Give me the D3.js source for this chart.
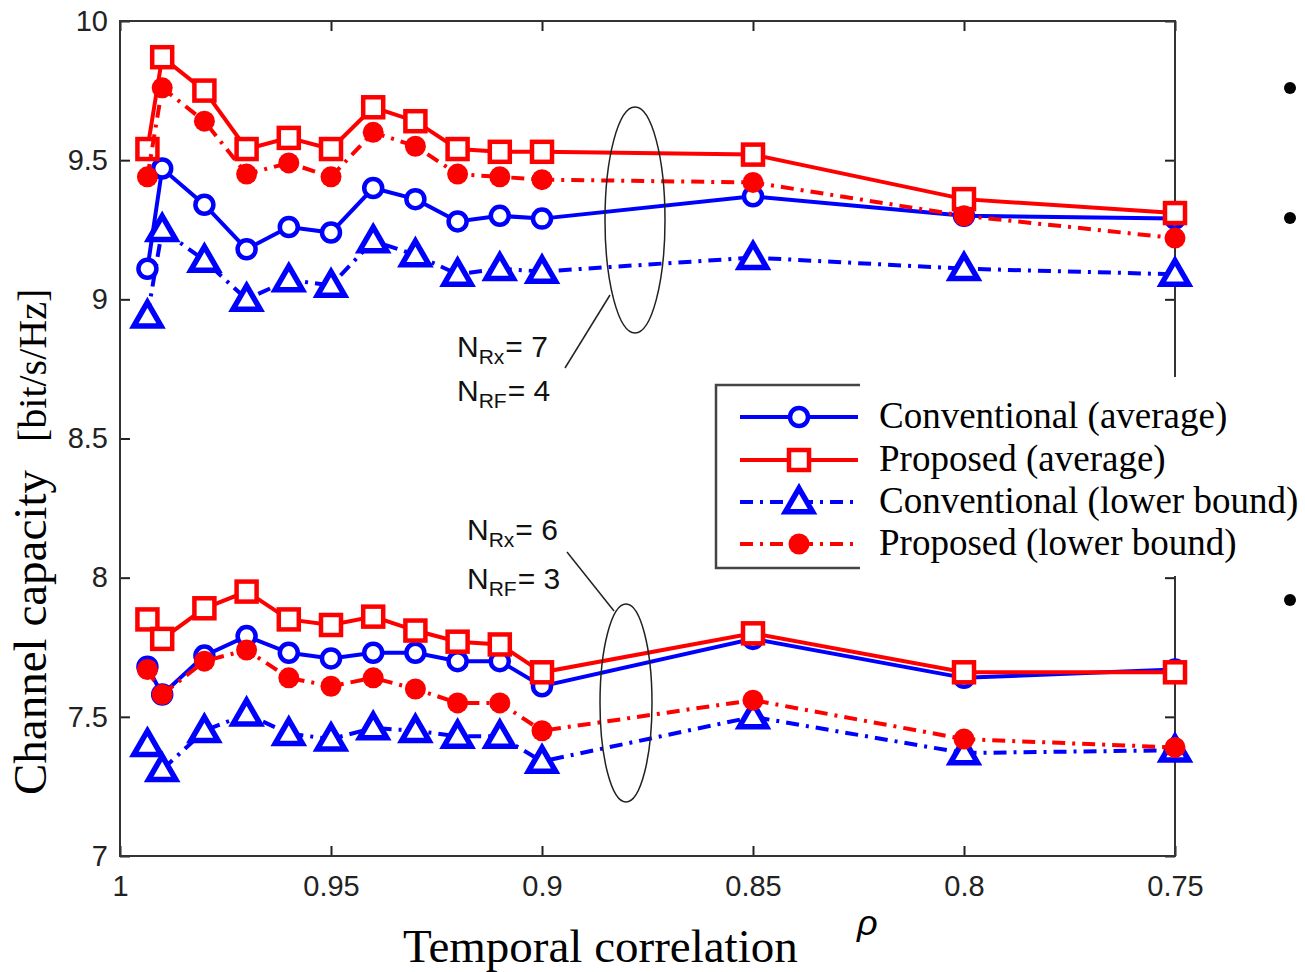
<!DOCTYPE html>
<html>
<head>
<meta charset="utf-8">
<script src="https://cdn.jsdelivr.net/npm/d3@7"></script>
<style>
  body { margin: 0; background: #fff; }
  svg { display: block; }
  .tick text { font-family: "Liberation Sans", Arial, sans-serif; fill: #222; }
</style>
</head>
<body>
<svg id="chart" width="1305" height="972"></svg>
<script>
// temporal correlation values
const rho = [0.9935, 0.99, 0.98, 0.97, 0.96, 0.95, 0.94, 0.93, 0.92, 0.91, 0.90, 0.85, 0.80, 0.75];

// N_Rx = 7, N_RF = 4
const conv7Avg = [9.11, 9.47, 9.34, 9.18, 9.26, 9.24, 9.40, 9.36, 9.28, 9.30, 9.29, 9.37, 9.30, 9.29];
const prop7Avg = [9.54, 9.87, 9.75, 9.54, 9.58, 9.54, 9.69, 9.64, 9.54, 9.53, 9.53, 9.52, 9.36, 9.31];
const conv7Lb  = [8.94, 9.25, 9.14, 9.00, 9.07, 9.05, 9.21, 9.16, 9.09, 9.11, 9.10, 9.15, 9.11, 9.09];
const prop7Lb  = [9.44, 9.76, 9.64, 9.45, 9.49, 9.44, 9.60, 9.55, 9.45, 9.44, 9.43, 9.42, 9.30, 9.22];

// N_Rx = 6, N_RF = 3
const conv6Avg = [7.68, 7.58, 7.72, 7.79, 7.73, 7.71, 7.73, 7.73, 7.70, 7.70, 7.61, 7.78, 7.64, 7.67];
const prop6Avg = [7.85, 7.78, 7.89, 7.95, 7.85, 7.83, 7.86, 7.81, 7.77, 7.76, 7.66, 7.80, 7.66, 7.66];
const conv6Lb  = [7.40, 7.31, 7.45, 7.51, 7.44, 7.42, 7.46, 7.45, 7.43, 7.43, 7.34, 7.50, 7.37, 7.38];
const prop6Lb  = [7.67, 7.58, 7.70, 7.74, 7.64, 7.61, 7.64, 7.60, 7.55, 7.55, 7.45, 7.56, 7.42, 7.39];

const xTicks = [1, 0.95, 0.9, 0.85, 0.8, 0.75];
const yTicks = [7, 7.5, 8, 8.5, 9, 9.5, 10];

const legendLabels = [
  "Conventional (average)",
  "Proposed (average)",
  "Conventional (lower bound)",
  "Proposed (lower bound)",
];

// settings
const margin = { top: 21, left: 120 };
const plotWidth = 1055;
const plotHeight = 835;
const blue = "#0000ff";
const red = "#ff0000";
const dashDot = "13,7,3,7";

const styles = {
  convAvg: { color: blue, dash: null, marker: "circle" },
  propAvg: { color: red, dash: null, marker: "square" },
  convLb: { color: blue, dash: dashDot, marker: "triangle" },
  propLb: { color: red, dash: dashDot, marker: "dot" },
};

const series = [
  { key: "convAvg", values: conv7Avg },
  { key: "propAvg", values: prop7Avg },
  { key: "convLb", values: conv7Lb },
  { key: "propLb", values: prop7Lb },
  { key: "convAvg", values: conv6Avg },
  { key: "propAvg", values: prop6Avg },
  { key: "convLb", values: conv6Lb },
  { key: "propLb", values: prop6Lb },
];

const svg = d3.select("#chart");

const plot = svg
  .append("g")
  .attr("transform", `translate(${margin.left}, ${margin.top})`);

// scales, axes
const xScale = d3.scaleLinear().domain([1, 0.75]).range([0, plotWidth]);
const yScale = d3.scaleLinear().domain([7, 10]).range([plotHeight, 0]);

const fmt = (d) => String(+d.toFixed(2));

const xAxisG = plot
  .append("g")
  .attr("transform", `translate(0, ${plotHeight})`)
  .call(d3.axisBottom(xScale).tickValues(xTicks).tickFormat(fmt).tickSize(-10).tickPadding(19));
const xTopG = plot
  .append("g")
  .call(d3.axisTop(xScale).tickValues(xTicks).tickFormat("").tickSize(-10));
const yAxisG = plot
  .append("g")
  .call(d3.axisLeft(yScale).tickValues(yTicks).tickFormat(fmt).tickSize(-10).tickPadding(12));
const yRightG = plot
  .append("g")
  .attr("transform", `translate(${plotWidth}, 0)`)
  .call(d3.axisRight(yScale).tickValues(yTicks).tickFormat("").tickSize(-10));

[xAxisG, xTopG, yAxisG, yRightG].forEach((g) => {
  g.select(".domain").remove();
  g.selectAll(".tick line").attr("stroke", "#222").attr("stroke-width", 2);
});
xAxisG.selectAll(".tick text").attr("font-size", 29);
yAxisG.selectAll(".tick text").attr("font-size", 29);

// frame
plot
  .append("rect")
  .attr("width", plotWidth)
  .attr("height", plotHeight)
  .attr("fill", "none")
  .attr("stroke", "#333")
  .attr("stroke-width", 2);

// lines
const lineGen = d3
  .line()
  .x((d) => xScale(d[0]))
  .y((d) => yScale(d[1]));

function drawMarker(g, type, color) {
  if (type === "circle") {
    g.append("circle").attr("r", 9).attr("fill", "#fff").attr("stroke", color).attr("stroke-width", 4.5);
  } else if (type === "square") {
    g.append("rect").attr("x", -10).attr("y", -10).attr("width", 20).attr("height", 20)
      .attr("fill", "#fff").attr("stroke", color).attr("stroke-width", 4.5);
  } else if (type === "triangle") {
    g.append("path").attr("d", d3.symbol(d3.symbolTriangle, 320)())
      .attr("transform", "translate(0, 2)")
      .attr("fill", "#fff").attr("stroke", color).attr("stroke-width", 5.5)
      .attr("stroke-linejoin", "miter");
  } else {
    g.append("circle").attr("r", 10.5).attr("fill", color);
  }
}

series.forEach((s) => {
  const st = styles[s.key];
  const pts = rho.map((r, i) => [r, s.values[i]]);
  plot
    .append("path")
    .datum(pts)
    .attr("d", lineGen)
    .attr("fill", "none")
    .attr("stroke", st.color)
    .attr("stroke-width", 4)
    .attr("stroke-dasharray", st.dash);
  plot
    .append("g")
    .selectAll("g")
    .data(pts)
    .join("g")
    .attr("transform", (d) => `translate(${xScale(d[0])}, ${yScale(d[1])})`)
    .each(function () {
      drawMarker(d3.select(this), st.marker, st.color);
    });
});

// annotations
const annot = svg.append("g").attr("fill", "none").attr("stroke", "#222").attr("stroke-width", 1.5);
annot.append("ellipse").attr("cx", 635).attr("cy", 220).attr("rx", 30).attr("ry", 113);
annot.append("line").attr("x1", 565).attr("y1", 368).attr("x2", 610).attr("y2", 295);
annot.append("ellipse").attr("cx", 626).attr("cy", 703).attr("rx", 26).attr("ry", 99);
annot.append("line").attr("x1", 567).attr("y1", 552).attr("x2", 614).attr("y2", 611);

function nLabel(x, y, sub, rest) {
  const t = svg
    .append("text")
    .attr("x", x)
    .attr("y", y)
    .attr("font-family", "Liberation Sans, Arial, sans-serif")
    .attr("font-size", 30)
    .attr("fill", "#111");
  t.append("tspan").text("N");
  t.append("tspan").attr("dx", 0).attr("dy", 7).attr("font-size", 21).text(sub);
  t.append("tspan").attr("dx", 1).attr("dy", -7).text(rest);
}
nLabel(457, 357, "Rx", "= 7");
nLabel(457, 401, "RF", "= 4");
nLabel(467, 540, "Rx", "= 6");
nLabel(467, 589, "RF", "= 3");

// legend
const legend = svg.append("g");
legend.append("rect").attr("x", 715).attr("y", 377).attr("width", 590).attr("height", 199).attr("fill", "#fff");
legend
  .append("path")
  .attr("d", "M860,385 H716 V568 H860")
  .attr("fill", "none")
  .attr("stroke", "#444")
  .attr("stroke-width", 2.5);

const legendRows = [417, 460, 502, 544];
["convAvg", "propAvg", "convLb", "propLb"].forEach((key, i) => {
  const st = styles[key];
  const y = legendRows[i];
  legend
    .append("line")
    .attr("x1", 740).attr("x2", 858).attr("y1", y).attr("y2", y)
    .attr("stroke", st.color).attr("stroke-width", 4)
    .attr("stroke-dasharray", st.dash);
  drawMarker(legend.append("g").attr("transform", `translate(799, ${y})`), st.marker, st.color);
  legend
    .append("text")
    .attr("x", 879)
    .attr("y", y + 11)
    .attr("font-family", "Liberation Serif, Times New Roman, serif")
    .attr("font-size", 37)
    .attr("fill", "#000")
    .text(legendLabels[i]);
});

// axis titles
svg
  .append("text")
  .attr("x", 403)
  .attr("y", 962)
  .attr("font-family", "Liberation Serif, Times New Roman, serif")
  .attr("font-size", 47)
  .text("Temporal correlation");
svg
  .append("text")
  .attr("x", 857)
  .attr("y", 935)
  .attr("font-family", "Liberation Sans, Arial, sans-serif")
  .attr("font-style", "italic")
  .attr("font-size", 36)
  .text("ρ");

const yTitle = svg
  .append("text")
  .attr("transform", "translate(46, 795) rotate(-90)")
  .attr("font-family", "Liberation Serif, Times New Roman, serif")
  .attr("fill", "#000");
yTitle.append("tspan").attr("font-size", 47).text("Channel capacity");
yTitle.append("tspan").attr("dx", 28).attr("font-size", 40).text("[bit/s/Hz]");

// bullets
svg
  .append("g")
  .selectAll("circle")
  .data([88, 218, 600])
  .join("circle")
  .attr("cx", 1290)
  .attr("cy", (d) => d)
  .attr("r", 6)
  .attr("fill", "#000");
</script>
</body>
</html>
